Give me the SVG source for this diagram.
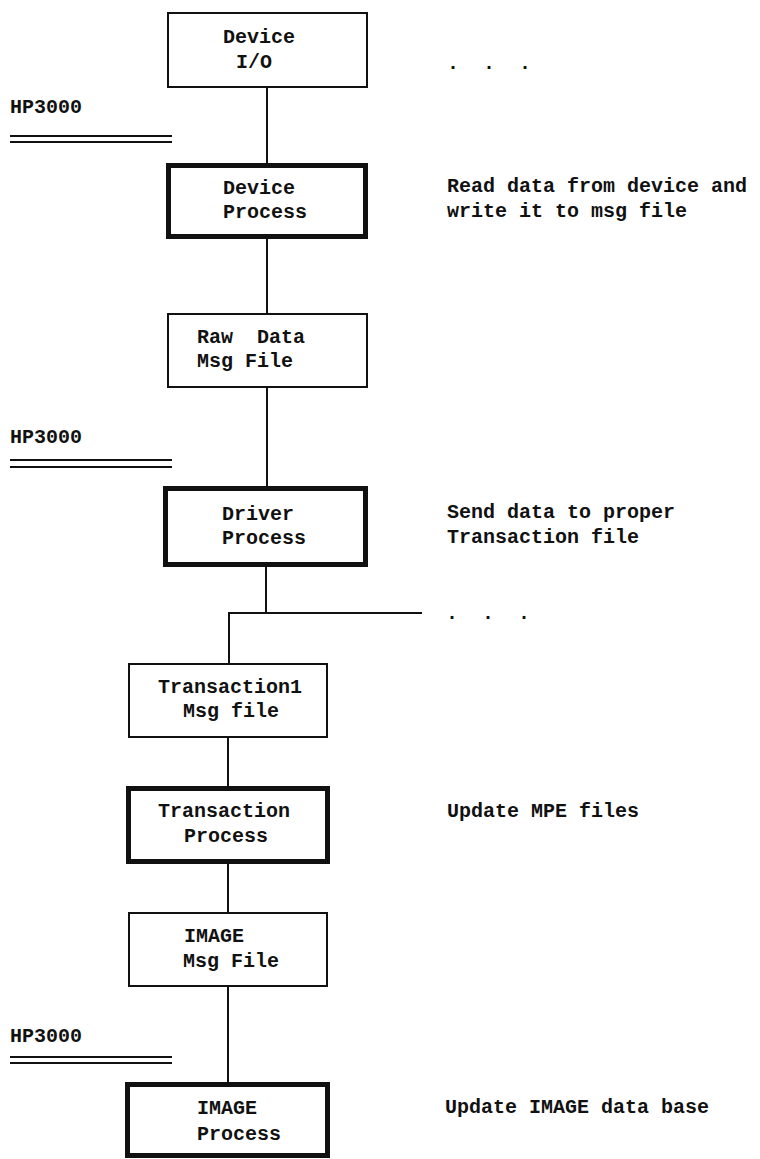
<svg xmlns="http://www.w3.org/2000/svg" width="760" height="1159" viewBox="0 0 760 1159">
<style>
text{font-family:"Liberation Mono","Courier New",monospace;font-weight:bold;font-size:20px;fill:#111}
.thin{fill:#fff;stroke:#111;stroke-width:2}
.thick{fill:#fff;stroke:#111;stroke-width:5}
.conn line,.conn polyline{stroke:#111;stroke-width:2;fill:none}
.sep line{stroke:#111;stroke-width:2}
</style>
<rect width="760" height="1159" fill="#fff"/>
<g class="conn">
<line x1="267" y1="88" x2="267" y2="164"/>
<line x1="267" y1="238" x2="267" y2="314"/>
<line x1="267" y1="388" x2="267" y2="487"/>
<polyline points="266,567 266,613 229,613 229,664"/>
<line x1="266" y1="613" x2="422" y2="613"/>
<line x1="228" y1="738" x2="228" y2="787"/>
<line x1="228" y1="864" x2="228" y2="913"/>
<line x1="228" y1="987" x2="228" y2="1083"/>
</g>
<g id="hp1" class="sep"><text x="10" y="113">HP3000</text><line x1="10" y1="136" x2="172" y2="136"/><line x1="10" y1="142" x2="172" y2="142"/></g>
<g id="hp2" class="sep"><text x="10" y="443">HP3000</text><line x1="10" y1="460" x2="172" y2="460"/><line x1="10" y1="467" x2="172" y2="467"/></g>
<g id="hp3" class="sep"><text x="10" y="1042">HP3000</text><line x1="10" y1="1057" x2="172" y2="1057"/><line x1="10" y1="1063" x2="172" y2="1063"/></g>
<g id="device-io"><rect class="thin" x="168" y="13" width="199" height="74"/><text x="223" y="43">Device</text><text x="236" y="68">I/O</text></g>
<g id="device-process"><rect class="thick" x="168.5" y="165.5" width="197" height="71"/><text x="223" y="194">Device</text><text x="223" y="218">Process</text></g>
<g id="raw-data"><rect class="thin" x="168" y="314" width="199" height="73"/><text x="197" y="343" xml:space="preserve">Raw  Data</text><text x="197" y="367">Msg File</text></g>
<g id="driver-process"><rect class="thick" x="165.5" y="488.5" width="200" height="76"/><text x="222" y="520">Driver</text><text x="222" y="544">Process</text></g>
<g id="transaction1"><rect class="thin" x="129" y="664" width="198" height="73"/><text x="158" y="693">Transaction1</text><text x="183" y="717">Msg file</text></g>
<g id="transaction-process"><rect class="thick" x="128.5" y="788.5" width="199" height="73"/><text x="158" y="817">Transaction</text><text x="184" y="842">Process</text></g>
<g id="image-msg"><rect class="thin" x="129" y="913" width="198" height="73"/><text x="184" y="942">IMAGE</text><text x="183" y="967">Msg File</text></g>
<g id="image-process"><rect class="thick" x="127.5" y="1084.5" width="200" height="71"/><text x="197" y="1114">IMAGE</text><text x="197" y="1140">Process</text></g>
<g id="notes">
<text x="447" y="69" xml:space="preserve">.  .  .</text>
<text x="447" y="192">Read data from device and</text>
<text x="447" y="217">write it to msg file</text>
<text x="447" y="518">Send data to proper</text>
<text x="447" y="543">Transaction file</text>
<text x="446" y="619" xml:space="preserve">.  .  .</text>
<text x="447" y="817">Update MPE files</text>
<text x="445" y="1113">Update IMAGE data base</text>
</g>
</svg>
